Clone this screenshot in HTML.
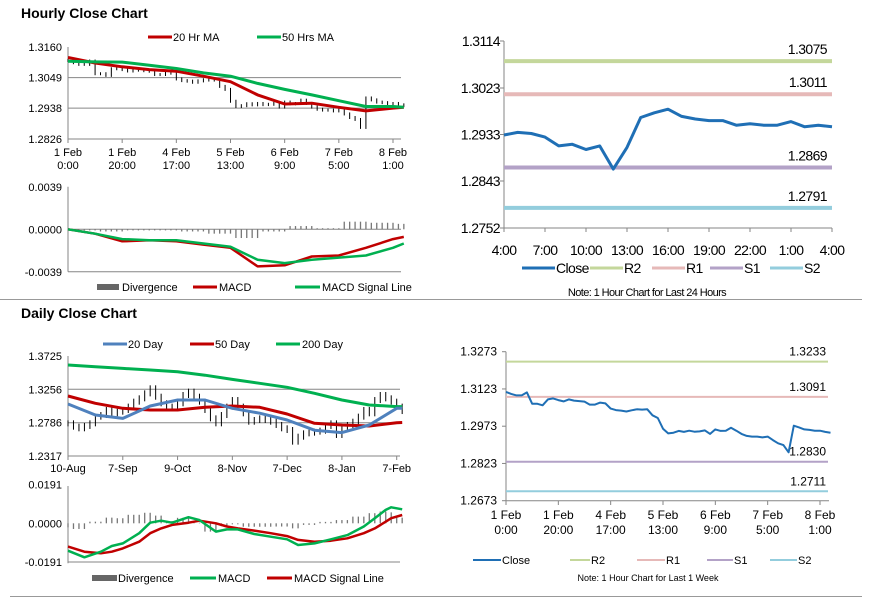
<!DOCTYPE html>
<html><head><meta charset="utf-8">
<style>
body{margin:0;background:#fff;width:873px;height:601px;overflow:hidden;font-family:"Liberation Sans",Arial,sans-serif}
svg{position:absolute;left:0;top:0}
.t{font-family:"Liberation Sans Narrow","Liberation Sans",Arial,sans-serif;letter-spacing:-0.6px}
</style></head>
<body>
<svg id="c" width="873" height="601" viewBox="0 0 873 601">
<text x="21" y="18" font-size="14" font-weight="bold">Hourly Close Chart</text>
<text x="21" y="318" font-size="14" font-weight="bold">Daily Close Chart</text>
<line x1="0" y1="299.5" x2="862" y2="299.5" stroke="#999"/>
<line x1="10" y1="596.5" x2="862" y2="596.5" stroke="#999"/>
</svg>
<script>
// ===== Hourly (1 week, 2h steps) =====
const weekTicks=["1 Feb|0:00","1 Feb|20:00","4 Feb|17:00","5 Feb|13:00","6 Feb|9:00","7 Feb|5:00","8 Feb|1:00"];
const weekClose=[1.3111,1.3103,1.3097,1.3097,1.3109,1.3063,1.3063,1.3057,1.3081,1.3085,1.3078,1.3073,1.3081,1.3076,1.3074,1.3072,1.3060,1.3060,1.3068,1.3065,
1.3044,1.3038,1.3036,1.3032,1.3037,1.3041,1.3040,1.3041,1.3017,1.3006,1.2963,1.2944,1.2947,1.2954,1.2950,1.2955,1.2951,1.2952,1.2956,1.2942,
1.2960,1.2954,1.2955,1.2967,1.2955,1.2942,1.2934,1.2931,1.2931,1.2928,1.2931,1.2917,1.2904,1.2897,1.2868,1.2975,1.2968,1.2960,1.2958,1.2955,1.2955,1.2950,1.2947];
const hMaIdx=[0,5,10,15,20,25,30,35,40,45,50,55,60,62];
const hMa20=[1.3122,1.3102,1.3088,1.3078,1.3072,1.3054,1.3034,1.2986,1.2953,1.2956,1.2941,1.2928,1.2938,1.2941];
const hMa50=[1.3108,1.3106,1.3105,1.3094,1.3082,1.3066,1.3054,1.3028,1.3006,1.2986,1.2965,1.2944,1.2944,1.2941];
const hMacd=[0,-0.0004,-0.0011,-0.0010,-0.0011,-0.0014,-0.0017,-0.0034,-0.0033,-0.0025,-0.0024,-0.0017,-0.0009,-0.0007];
const hSignal=[0,-0.0004,-0.0009,-0.0010,-0.0010,-0.0013,-0.0016,-0.0028,-0.0031,-0.0028,-0.0026,-0.0024,-0.0017,-0.0013];
const hDiv=[0,-0.0001,-0.0002,-0.0001,-0.0001,-0.0002,-0.0004,-0.0008,-0.0002,0.0003,0.0001,0.0007,0.0006,0.0005];
const hPriceTicks=[1.3160,1.3049,1.2938,1.2826];
const hMacdTicks=["0.0039","0.0000","-0.0039"];
// ===== Last 24h =====
const dayTicks=["4:00","7:00","10:00","13:00","16:00","19:00","22:00","1:00","4:00"];
const dayClose=[1.2932,1.2937,1.2935,1.2928,1.2911,1.2914,1.2904,1.2911,1.2866,1.2908,1.2966,1.2975,1.2982,1.2968,1.2963,1.2960,1.2960,1.2951,1.2954,1.2951,1.2951,1.2958,1.2948,1.2951,1.2948];
const dayYTicks=[1.3114,1.3023,1.2933,1.2843,1.2752];
const dayLevels=[1.3075,1.3011,1.2869,1.2791];
const weekYTicks=[1.3273,1.3123,1.2973,1.2823,1.2673];
const weekLevels=[1.3233,1.3091,1.2830,1.2711];
const levelNames=["R2","R1","S1","S2"];
// ===== Daily =====
const dTicks=["10-Aug","7-Sep","9-Oct","8-Nov","7-Dec","8-Jan","7-Feb"];
const dClose=[1.2777,1.2730,1.2707,1.2740,1.2777,1.2871,1.2894,1.2965,1.2918,1.2941,1.2965,1.3012,1.3082,1.3129,1.3199,1.3270,1.3152,1.3059,1.3012,1.2988,
1.3059,1.3176,1.3223,1.3152,1.3082,1.2965,1.2847,1.2777,1.2894,1.3012,1.3105,1.3012,1.2918,1.2800,1.2824,1.2847,1.2824,1.2800,1.2754,1.2707,
1.2683,1.2519,1.2589,1.2636,1.2646,1.2660,1.2674,1.2740,1.2777,1.2613,1.2730,1.2754,1.2800,1.2871,1.2965,1.2918,1.3105,1.3176,1.3129,1.3082,1.3012,1.2950];
const dMaIdx=[0,5,10,15,20,25,30,35,40,45,50,55,60,61];
const dMa20=[1.3049,1.2894,1.2847,1.3021,1.3105,1.3105,1.2988,1.2920,1.2824,1.2680,1.2646,1.2754,1.2988,1.2990];
const dMa50=[1.3162,1.3059,1.2988,1.2965,1.2965,1.3003,1.3021,1.3003,1.2908,1.2777,1.2754,1.2740,1.2786,1.2788];
const dMa200=[1.3598,1.3575,1.3551,1.3528,1.3504,1.3455,1.3396,1.3340,1.3284,1.3200,1.3105,1.3035,1.3012,1.3012];
const dMacdIdx=[0,3,6,8,10,13,15,17,19,22,24,27,29,31,34,37,40,42,45,48,51,54,56,58,59,61];
const dMacd=[-0.0135,-0.0168,-0.0140,-0.0112,-0.0099,-0.0049,0.0003,0.0013,0.0003,0.0030,0.0016,-0.0041,-0.0030,-0.0030,-0.0053,-0.0066,-0.0079,-0.0107,-0.0099,-0.0079,-0.0058,-0.0016,0.0025,0.0066,0.0079,0.0069];
const dSignal=[-0.0115,-0.0140,-0.0148,-0.0140,-0.0124,-0.0091,-0.0049,-0.0025,-0.0008,0.0003,0.0013,0.0000,-0.0016,-0.0025,-0.0036,-0.0049,-0.0063,-0.0082,-0.0091,-0.0086,-0.0074,-0.0049,-0.0025,0.0008,0.0025,0.0041];
const dPriceTicks=[1.3725,1.3256,1.2786,1.2317];
const dMacdTicks=["0.0191","0.0000","-0.0191"];

const svg=document.getElementById('c');
const NS='http://www.w3.org/2000/svg';
function mk(tag,attrs,parent){const e=document.createElementNS(NS,tag);for(const k in attrs)e.setAttribute(k,attrs[k]);(parent||svg).appendChild(e);return e;}
function txt(x,y,s,size,anchor,cls){const e=mk('text',{x:x,y:y,'font-size':size,'text-anchor':anchor||'start',fill:'#000'});if(cls)e.setAttribute('class',cls);e.textContent=s;return e;}
function poly(pts,color,w){return mk('polyline',{points:pts.map(p=>p[0].toFixed(1)+','+p[1].toFixed(1)).join(' '),fill:'none',stroke:color,'stroke-width':w,'stroke-linejoin':'round'});}

// ---------- HOURLY PRICE ----------
const xH=i=>68+i*(393-68)/60;
const yH=v=>47+(1.3160-v)/0.0334*92;
hPriceTicks.forEach((v,k)=>{
  const y=yH(v);
  if(k>0){const g=mk('line',{x1:68,y1:y,x2:401,y2:y,stroke:'#868686'});
  
  }
  const t=txt(62,y+4,v.toFixed(4),11,'end');
  
  
});
mk('line',{x1:68,y1:47,x2:68,y2:139,stroke:'#868686'});
weekTicks.forEach((s,k)=>{const x=xH(k*10);const p=s.split('|');
  mk('line',{x1:x,y1:139,x2:x,y2:143,stroke:'#868686'});
  const t=txt(x,156,p[0],11,'middle');
  
  
  txt(x,169,p[1],11,'middle');});
weekClose.forEach((v,i)=>{const pv=i>0?weekClose[i-1]:v;const x=xH(i);
  const b=mk('line',{x1:x,y1:yH(Math.max(v,pv))-1.5,x2:x,y2:yH(Math.min(v,pv))+1.5,stroke:'#000','stroke-width':1});
  
  });
const h20=poly(hMaIdx.map((i,k)=>[xH(i),yH(hMa20[k])]),'#c00000',3);


const h50=poly(hMaIdx.map((i,k)=>[xH(i),yH(hMa50[k])]),'#00b050',3);


mk('line',{x1:148,y1:37,x2:172,y2:37,stroke:'#c00000','stroke-width':3});
txt(173,41,'20 Hr MA',11);
mk('line',{x1:257,y1:37,x2:281,y2:37,stroke:'#00b050','stroke-width':3});
txt(282,41,'50 Hrs MA',11);

// ---------- HOURLY MACD ----------
const yHM=v=>229.3-v/0.0039*42.5;
[0.0039,0,-0.0039].forEach((v,k)=>{const y=yHM(v);
  if(k>0)mk('line',{x1:68,y1:y,x2:401,y2:y,stroke:'#868686'});
  const t=txt(62,y+4,hMacdTicks[k],11,'end');
  
  });
mk('line',{x1:68,y1:186.7,x2:68,y2:271.7,stroke:'#868686'});
hDiv.forEach((v,k)=>{const i0=k>0?hMaIdx[k-1]:0;const i1=hMaIdx[k];
  for(let i=i0+1;i<=i1;i++){const x=xH(i);
    const b=mk('line',{x1:x,y1:yHM(0),x2:x,y2:yHM(v),stroke:'#777','stroke-width':1.3});
    
    }});
const hm=poly(hMaIdx.map((i,k)=>[xH(i),yHM(hMacd[k])]),'#c00000',2.5);


const hs=poly(hMaIdx.map((i,k)=>[xH(i),yHM(hSignal[k])]),'#00b050',2.5);


mk('rect',{x:97,y:284,width:22,height:6,fill:'#666'});
txt(122,291,'Divergence',11);
mk('line',{x1:193,y1:287,x2:217,y2:287,stroke:'#c00000','stroke-width':3});
txt(219,291,'MACD',11);
mk('line',{x1:295,y1:287,x2:320,y2:287,stroke:'#00b050','stroke-width':3});
txt(322,291,'MACD Signal Line',11);

// ---------- 24H CHART ----------
const x24=i=>504+i*(832-504)/24;
const y24=v=>41+(1.3114-v)/0.0362*187;
const lvlCol=['#c4d79b','#e6b9b8','#b3a2c7','#93cddd'];
mk('line',{x1:504,y1:41,x2:504,y2:228,stroke:'#868686'});
mk('line',{x1:504,y1:228,x2:832,y2:228,stroke:'#868686'});
dayYTicks.forEach(v=>{const y=y24(v);mk('line',{x1:500,y1:y,x2:504,y2:y,stroke:'#868686'});
  const t=txt(500,y+5,v.toFixed(4),14,'end','t');
  
  });
dayTicks.forEach((s,k)=>{const x=x24(k*3);mk('line',{x1:x,y1:228,x2:x,y2:232,stroke:'#868686'});
  const t=txt(x,255,s,14,'middle','t');
  
  });
dayLevels.forEach((v,k)=>{const y=y24(v);
  const l=mk('line',{x1:504,y1:y,x2:832,y2:y,stroke:lvlCol[k],'stroke-width':4});
  
  
  txt(827,y-7,v.toFixed(4),14,'end','t');});
const dc=poly(dayClose.map((v,i)=>[x24(i),y24(v)]),'#1f6fb5',3);


[['Close','#1f6fb5',522,556],['R2',lvlCol[0],590,624],['R1',lvlCol[1],652,686],['S1',lvlCol[2],710,744],['S2',lvlCol[3],770,804]].forEach(a=>{
  mk('line',{x1:a[2],y1:268,x2:a[2]+33,y2:268,stroke:a[1],'stroke-width':3});
  const t=txt(a[3],273,a[0],14,'start','t');
  
  });
txt(647,296,'Note: 1 Hour Chart for Last 24 Hours',11,'middle','t');

// ---------- WEEK CHART ----------
const xW=i=>506+i*(820-506)/60;
const yW=v=>351.7+(1.3273-v)/0.06*149;
mk('line',{x1:506,y1:351.7,x2:506,y2:500.7,stroke:'#868686'});
mk('line',{x1:506,y1:500.7,x2:829,y2:500.7,stroke:'#868686'});
weekYTicks.forEach(v=>{const y=yW(v);mk('line',{x1:502,y1:y,x2:506,y2:y,stroke:'#868686'});
  const t=txt(497,y+4,v.toFixed(4),12,'end');
  
  });
weekTicks.forEach((s,k)=>{const x=xW(k*10);const p=s.split('|');
  mk('line',{x1:x,y1:500.7,x2:x,y2:505,stroke:'#868686'});
  const t=txt(x,519,p[0],12,'middle');
  
  
  txt(x,534,p[1],12,'middle');});
weekLevels.forEach((v,k)=>{const y=yW(v);
  const l=mk('line',{x1:506,y1:y,x2:828,y2:y,stroke:lvlCol[k],'stroke-width':2});
  
  
  txt(826,y-(k==2?-(-6):6),v.toFixed(4),12,'end');});
const wc=poly(weekClose.map((v,i)=>[xW(i),yW(v)]),'#1f6fb5',2);


[['Close','#1f6fb5',473,501],['R2',lvlCol[0],570,590],['R1',lvlCol[1],637,665],['S1',lvlCol[2],707,733],['S2',lvlCol[3],770,797]].forEach(a=>{
  mk('line',{x1:a[2],y1:560,x2:a[3],y2:560,stroke:a[1],'stroke-width':2});
  const t=txt(a[3]+1,564,a[0],11);
  
  });
txt(648,581,'Note: 1 Hour Chart for Last 1 Week',9,'middle');

// ---------- DAILY PRICE ----------
const xD=i=>68+i*(396.7-68)/60;
const yD=v=>356+(1.3725-v)/0.1408*100;
dPriceTicks.forEach((v,k)=>{const y=yD(v);
  if(k>0)mk('line',{x1:68,y1:y,x2:400,y2:y,stroke:'#868686'});
  const t=txt(62,y+4,v.toFixed(4),11,'end');
  
  });
mk('line',{x1:68,y1:356,x2:68,y2:456,stroke:'#868686'});
dTicks.forEach((s,k)=>{const x=xD(k*10);mk('line',{x1:x,y1:456,x2:x,y2:460,stroke:'#868686'});
  const t=txt(x,472,s,11,'middle');
  
  });
dClose.forEach((v,i)=>{const pv=i>0?dClose[i-1]:v;const x=xD(i);
  const b=mk('line',{x1:x,y1:yD(Math.max(v,pv))-3,x2:x,y2:yD(Math.min(v,pv))+3,stroke:'#000','stroke-width':1});
  
  });
const d200=poly(dMaIdx.map((i,k)=>[xD(i),yD(dMa200[k])]),'#00b050',3);


const d50=poly(dMaIdx.map((i,k)=>[xD(i),yD(dMa50[k])]),'#c00000',3);


const d20=poly(dMaIdx.map((i,k)=>[xD(i),yD(dMa20[k])]),'#4f81bd',3);


[['20 Day','#4f81bd',103,128],['50 Day','#c00000',190,215],['200 Day','#00b050',276,302]].forEach(a=>{
  mk('line',{x1:a[2],y1:344,x2:a[2]+24,y2:344,stroke:a[1],'stroke-width':3});
  const t=txt(a[3],348,a[0],11);
  
  });

// ---------- DAILY MACD ----------
const yDM=v=>523.3-v/0.0191*38.7;
[0.0191,0,-0.0191].forEach((v,k)=>{const y=yDM(v);
  if(k==2)mk('line',{x1:68,y1:y,x2:400,y2:y,stroke:'#868686'});
  const t=txt(62,y+4,dMacdTicks[k],11,'end');
  
  });
mk('line',{x1:68,y1:486,x2:68,y2:563.3,stroke:'#868686'});
dMacdIdx.forEach((i1,k)=>{const i0=k>0?dMacdIdx[k-1]:-1;const v=dMacd[k]-dSignal[k];
  for(let i=i0+1;i<=i1;i++){const x=xD(i);
    const b=mk('line',{x1:x,y1:yDM(0),x2:x,y2:yDM(v),stroke:'#777','stroke-width':1.3});
    
    }});
const dsg=poly(dMacdIdx.map((i,k)=>[xD(i),yDM(dSignal[k])]),'#c00000',2.5);


const dm=poly(dMacdIdx.map((i,k)=>[xD(i),yDM(dMacd[k])]),'#00b050',2.5);


mk('rect',{x:92,y:575,width:25,height:6,fill:'#666'});
txt(118,582,'Divergence',11);
mk('line',{x1:190,y1:578,x2:216,y2:578,stroke:'#00b050','stroke-width':3});
txt(218,582,'MACD',11);
mk('line',{x1:267,y1:578,x2:292,y2:578,stroke:'#c00000','stroke-width':3});
txt(294,582,'MACD Signal Line',11);
</script>
</body></html>
